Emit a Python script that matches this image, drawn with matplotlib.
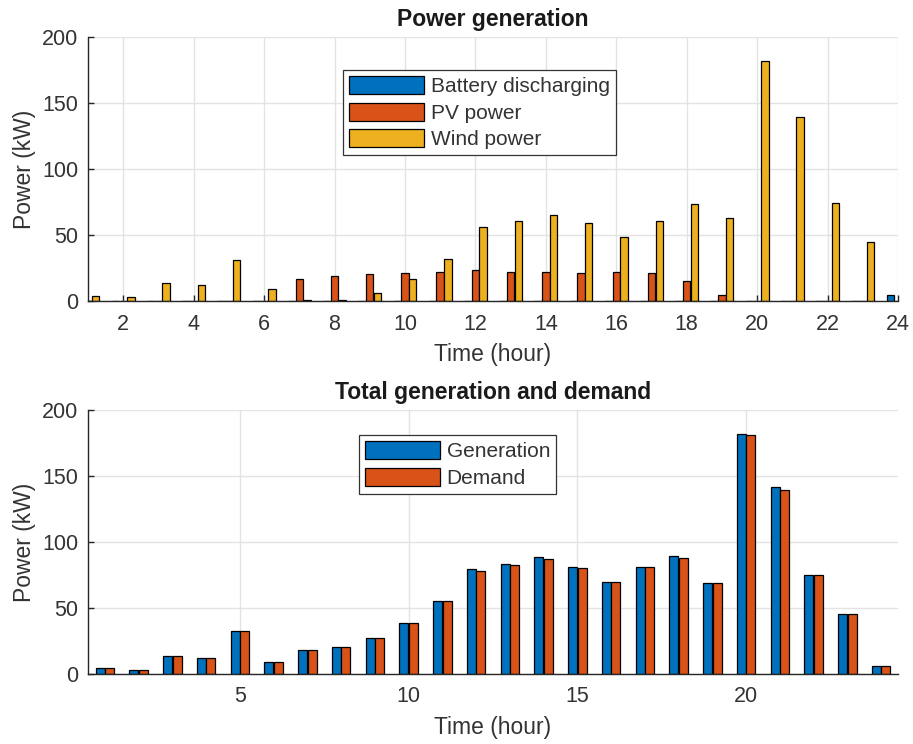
import matplotlib
matplotlib.use("Agg")
import matplotlib.pyplot as plt
import numpy as np

plt.rcParams['font.family'] = ['Liberation Sans', 'DejaVu Sans']

hours = np.arange(1, 25)
battery = [0, 0, 0, 0, 0, 0, 0, 0, 0, 0, 0, 0, 0, 0, 0, 0, 0, 0, 0, 0, 0, 0, 0, 4.5]
pv = [0, 0, 0, 0, 0, 0, 16.7, 18.9, 20.2, 21.5, 22.2, 23.5, 22.2, 22.2, 21.5, 22.2,
      21.5, 15.4, 4.5, 0, 0, 0, 0, 0]
wind = [3.8, 2.8, 13.4, 11.9, 31, 8.8, 1.0, 1.0, 6.3, 16.7, 32, 56.3, 60.6, 65.5, 59.3,
        48.2, 60.6, 73.2, 62.6, 181.8, 139.6, 74, 45, 0]
generation = [4.3, 3.3, 13.9, 12.4, 32.8, 8.8, 18.2, 20.7, 27, 38.6, 55, 79.5, 83.3, 88.4,
              81.3, 69.9, 81.3, 89.4, 68.9, 182, 141.4, 75, 45.2, 6.3]
demand = [4.3, 3.3, 13.9, 12.4, 32.8, 8.8, 18.2, 20.7, 27, 38.6, 55, 78, 82.3, 86.9,
          80, 69.9, 81.3, 88.1, 68.9, 181, 139.4, 75, 45.2, 6.3]

C_BLUE = '#0072BD'
C_RED = '#D95319'
C_YEL = '#EDB120'
TXT = '#333333'

fig = plt.figure(figsize=(9.13, 7.44), dpi=100)
ax1 = fig.add_axes([88/913, 1-301/744, 810/913, 264/744])
ax2 = fig.add_axes([88/913, 1-674/744, 810/913, 264/744])

def style(ax):
    ax.set_axisbelow(True)
    ax.grid(True, color='#e3e3e3', linewidth=1.0)
    for s in ['top', 'right']:
        ax.spines[s].set_visible(False)
    for s in ['left', 'bottom']:
        ax.spines[s].set_color('#262626')
        ax.spines[s].set_linewidth(1.0)
    ax.tick_params(direction='in', length=4.5, width=1.0, color='#262626',
                   labelsize=15.5, labelcolor=TXT)
    ax.tick_params(axis='x', pad=9)
    ax.tick_params(axis='y', pad=7)
    ax.set_ylim(0, 200)
    ax.set_yticks([0, 50, 100, 150, 200])

def style_legend(leg):
    leg.get_frame().set_linewidth(0.9)
    for t in leg.get_texts():
        t.set_color(TXT)

LEGKW = dict(loc='upper left', fontsize=15, fancybox=False, framealpha=1,
             edgecolor='#333333', handlelength=3.6, handleheight=0.95,
             labelspacing=0.3, handletextpad=0.3, borderpad=0.3, borderaxespad=0)

ekw = dict(edgecolor='black', linewidth=0.9)
bw = 0.21
off = 0.22
ax1.bar(hours - off, battery, bw, color=C_BLUE, label='Battery discharging', **ekw)
ax1.bar(hours, pv, bw, color=C_RED, label='PV power', **ekw)
ax1.bar(hours + off, wind, bw, color=C_YEL, label='Wind power', **ekw)
style(ax1)
ax1.set_xlim(1, 24)
ax1.set_xticks(np.arange(2, 25, 2))
ax1.set_title('Power generation', fontsize=16.5, fontweight='bold', color='#1a1a1a', pad=8)
ax1.set_xlabel('Time (hour)', fontsize=16.5, color=TXT, labelpad=6)
ax1.set_ylabel('Power (kW)', fontsize=16.5, color=TXT, labelpad=4)
leg1 = ax1.legend(bbox_to_anchor=(343/913, 1-70/744), bbox_transform=fig.transFigure, **LEGKW)
style_legend(leg1)

bw2 = 0.27
off2 = 0.14
ax2.bar(hours - off2, generation, bw2, color=C_BLUE, label='Generation', **ekw)
ax2.bar(hours + off2, demand, bw2, color=C_RED, label='Demand', **ekw)
style(ax2)
ax2.set_xlim(0.5, 24.5)
ax2.set_xticks([5, 10, 15, 20])
ax2.set_title('Total generation and demand', fontsize=16.5, fontweight='bold', color='#1a1a1a', pad=8)
ax2.set_xlabel('Time (hour)', fontsize=16.5, color=TXT, labelpad=6)
ax2.set_ylabel('Power (kW)', fontsize=16.5, color=TXT, labelpad=4)
leg2 = ax2.legend(bbox_to_anchor=(359/913, 1-435/744), bbox_transform=fig.transFigure, **LEGKW)
style_legend(leg2)

fig.savefig('out.png', dpi=100)
